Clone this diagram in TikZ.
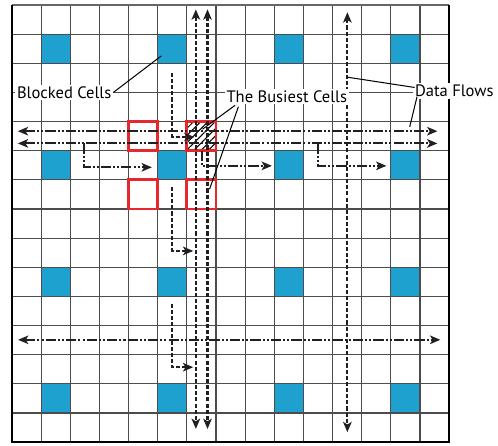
\documentclass[tikz,border=0pt]{standalone}
\usepackage{fontspec}
\setmainfont{PT Sans}
\usetikzlibrary{arrows.meta,patterns.meta}
\definecolor{cellblue}{RGB}{31,161,208}
\definecolor{busyred}{RGB}{230,40,45}
\definecolor{flowink}{RGB}{35,31,32}
\begin{document}
\begin{tikzpicture}[x=0.6cm,y=-0.6cm,
  gridline/.style={draw=black!70,line width=0.7pt},
  blockcell/.style={fill=cellblue},
  busycell/.style={draw=busyred,line width=1.6pt},
  dashflow/.style={draw=flowink,line width=1.2pt,dash pattern=on 2.4pt off 1.2pt},
  ddflow/.style={draw=flowink,line width=1.2pt,dash pattern=on 6pt off 1.2pt on 1.2pt off 1.2pt on 1.2pt off 1.2pt},
  leader/.style={draw=black,line width=0.6pt},
  lbl/.style={fill=white,inner sep=1pt,font=\fontsize{9.7}{11}\selectfont},
  >={Stealth[length=6pt,width=5pt,inset=1.5pt]}
]
\useasboundingbox (-0.412,-0.172) rectangle (16.68,15.12);
% blocked cells
\foreach \i in {1,5,9,13}{\foreach \j in {1,5,9,13}{\fill[blockcell] (\i,\j) rectangle ++(1,1);}}
% hatched busiest cell
\fill[pattern={Lines[angle=45,distance=3pt,line width=0.6pt]}] (6,4) rectangle (7,5);
% grid
\foreach \k in {1,...,14}{
  \draw[gridline] (\k,0) -- (\k,15);
  \draw[gridline] (0,\k) -- (15,\k);
}
\draw[draw=black!60,line width=1.1pt] (0,0) -- (15,0);
\draw[line width=1.6pt] (0,0) -- (0,15) -- (15,15) -- (15,0);
% busiest cells
\foreach \i/\j in {4/4,6/4,4/6,6/6}{\draw[busycell] (\i,\j) rectangle ++(1,1);}
% coordinates of flows
\coordinate (h1l) at (0.2,4.33);  \coordinate (h1r) at (14.6,4.33);
\coordinate (h2l) at (0.2,4.75);  \coordinate (h2r) at (14.6,4.75);
\coordinate (h3l) at (0.21,11.49); \coordinate (h3r) at (14.7,11.49);
\coordinate (v1t) at (6.31,0.15); \coordinate (v1b) at (6.31,14.55);
\coordinate (v2t) at (6.71,0.15); \coordinate (v2b) at (6.71,14.55);
\coordinate (v3t) at (11.51,0.25); \coordinate (v3b) at (11.51,14.66);
% straight flows
\draw[ddflow,<->] (h1l) -- (h1r);
\draw[ddflow,<->] (h2l) -- (h2r);
\draw[ddflow,<->] (h3l) -- (h3r);
\draw[dashflow,<->] (v1t) -- (v1b);
\draw[dashflow,<->] (v2t) -- (v2b);
\draw[dashflow,<->] (v3t) -- (v3b);
% bent flows
\coordinate (f1s) at (5.5,2.33);  \coordinate (f1e) at (6.26,4.53);
\coordinate (f2s) at (2.46,4.75); \coordinate (f2e) at (4.8,5.57);
\coordinate (f3s) at (6.52,5.0);  \coordinate (f3e) at (8.92,5.52);
\coordinate (f4s) at (10.5,4.75); \coordinate (f4e) at (12.85,5.52);
\coordinate (f5s) at (5.5,6.24);  \coordinate (f5e) at (6.22,8.44);
\coordinate (f6s) at (5.5,10.25); \coordinate (f6e) at (6.22,12.43);
\draw[dashflow,->] (f1s) |- (f1e);
\draw[ddflow,->] (f2s) |- (f2e);
\draw[ddflow,->] (f3s) |- (f3e);
\draw[ddflow,->] (f4s) |- (f4e);
\draw[dashflow,->] (f5s) |- (f5e);
\draw[dashflow,->] (f6s) |- (f6e);
% labels
\node[lbl] (blocked) at (1.79,3.0) {Blocked Cells};
\node[lbl] (busiest) at (9.43,3.14) {The Busiest Cells};
\node[lbl] (flows) at (15.18,2.95) {Data Flows};
% leaders
\coordinate (bt) at (5.12,1.75);
\draw[leader] (blocked.east) -- (bt);
\coordinate (bs1) at (7.66,3.44); \coordinate (bt1) at (6.54,4.26);
\coordinate (bs2) at (7.77,3.49); \coordinate (bt2) at (6.78,6.32);
\draw[leader] (bs1) -- (bt1);
\draw[leader] (bs2) -- (bt2);
\coordinate (ds1) at (13.82,2.83); \coordinate (dt1) at (11.53,2.48);
\coordinate (ds2) at (13.9,3.15);  \coordinate (dt2) at (13.65,4.18);
\draw[leader] (ds1) -- (dt1);
\draw[leader] (ds2) -- (dt2);
\end{tikzpicture}
\end{document}
